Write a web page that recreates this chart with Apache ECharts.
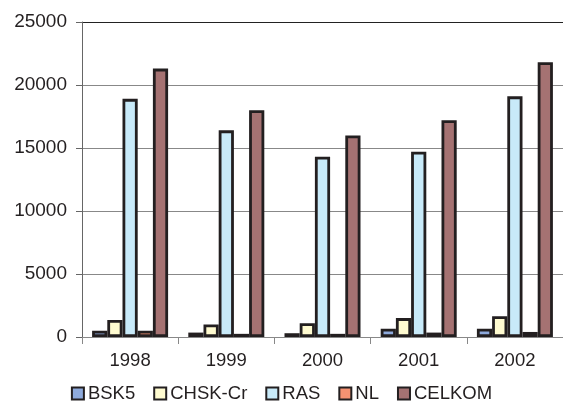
<!DOCTYPE html>
<html><head><meta charset="utf-8">
<script src="https://cdn.jsdelivr.net/npm/echarts@6/dist/echarts.min.js"></script>
<style>html,body{margin:0;padding:0;background:#fff}#c{width:563px;height:412px}</style>
</head><body><div id="c"></div>
<script>
const years = ['1998','1999','2000','2001','2002'];
const seriesNames = ['BSK5','CHSK-Cr','RAS','NL','CELKOM'];
const bsk5 = [500, 350, 300, 650, 650];
const chsk = [1350, 1000, 1100, 1500, 1650];
const ras = [18900, 16400, 14300, 14700, 19100];
const nl = [500, 250, 250, 350, 400];
const celkom = [21300, 18000, 16000, 17200, 21800];
const colors = ['#8eaadc','#fffbd0','#c8eaf9','#f59272','#a57272'];
const values = [bsk5, chsk, ras, nl, celkom];
const font = 'Liberation Sans, Arial, sans-serif';
const chart = echarts.init(document.getElementById('c'));
chart.setOption({
  animation: false,
  textStyle: {fontFamily: font},
  grid: {left: 82, top: 22, bottom: 75, right: -4},
  legend: {
    bottom: 4, left: 'center', itemWidth: 12, itemHeight: 12, itemGap: 18,
    textStyle: {fontSize: 18.5, color: '#231f20', fontFamily: font, padding: [0, 0, 0, -1]},
    data: seriesNames.map(n => ({name: n, icon: 'rect'}))
  },
  xAxis: {
    type: 'category', data: years,
    axisLine: {lineStyle: {color: '#888', width: 1}},
    axisTick: {show: true, length: 7, lineStyle: {color: '#888'}},
    axisLabel: {fontSize: 18.5, color: '#231f20', margin: 14, fontFamily: font}
  },
  yAxis: {
    type: 'value', min: 0, max: 25000, interval: 5000,
    axisLine: {show: true, lineStyle: {color: '#666', width: 1}},
    axisTick: {show: true, length: 6, lineStyle: {color: '#666'}},
    axisLabel: {fontSize: 19, color: '#231f20', margin: 15, fontFamily: font, formatter: v => String(v)},
    splitLine: {lineStyle: {color: ['#888','#888','#888','#888','#888','#222'], width: 1.2}}
  },
  series: seriesNames.map((n, i) => ({
    name: n, type: 'bar', data: values[i],
    barGap: '0%', barCategoryGap: '21%',
    itemStyle: {color: colors[i], borderColor: '#231f20', borderWidth: 2.8}
  }))
});
</script></body></html>
